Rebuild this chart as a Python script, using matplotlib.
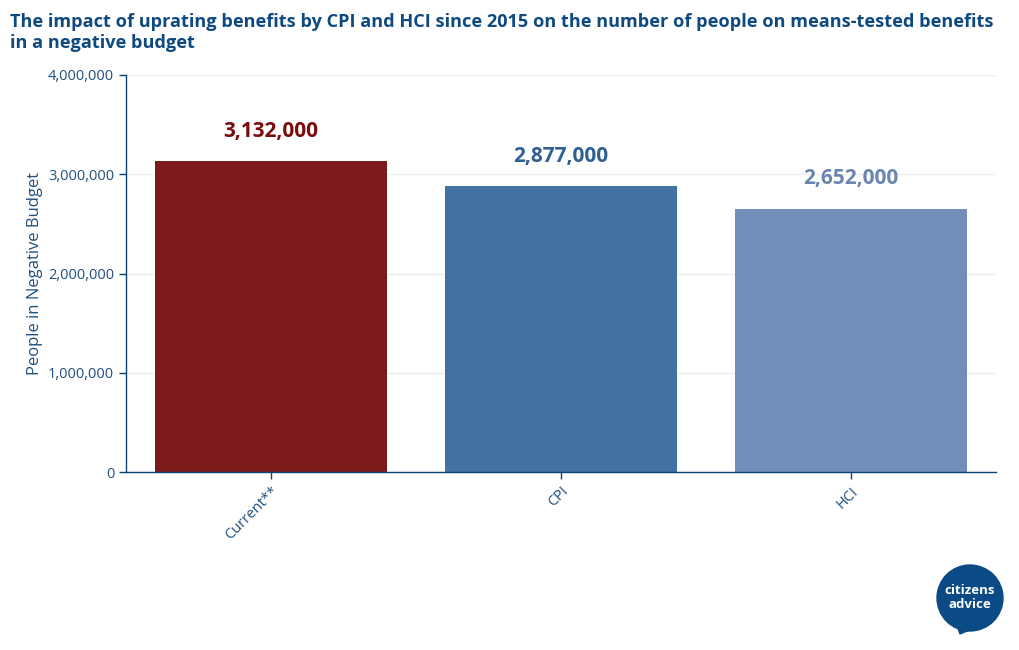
import matplotlib
matplotlib.use("Agg")
import matplotlib.pyplot as plt
from matplotlib.patches import Circle, Polygon
from matplotlib.ticker import FuncFormatter

categories = ["Current**", "CPI", "HCI"]
values = [3132000, 2877000, 2652000]
labels = ["3,132,000", "2,877,000", "2,652,000"]
bar_colors = ["#7d1a1c", "#4272a1", "#728db8"]
label_colors = ["#7a0c0c", "#2f5f93", "#6a85b0"]
yticks = [0, 1000000, 2000000, 3000000, 4000000]

plt.rcParams["font.family"] = ["Open Sans", "DejaVu Sans"]
axis_col = "#0b4373"

fig = plt.figure(figsize=(10.2, 6.5), dpi=100)
ax = fig.add_axes([126/1020, 1-472/650, 870/1020, 397/650])

x = range(len(categories))
ax.bar(x, values, width=0.8, color=bar_colors, zorder=2)
for i, (v, lab, c) in enumerate(zip(values, labels, label_colors)):
    ax.annotate(lab, (i, v), xytext=(0, 14), textcoords="offset points",
                ha="center", va="bottom", fontsize=15, fontweight="bold", color=c)

ax.set_xlim(-0.5, 2.5)
ax.set_ylim(0, 4000000)
ax.set_yticks(yticks)
ax.yaxis.set_major_formatter(FuncFormatter(lambda v, p: f"{int(v):,}"))
ax.set_xticks(list(x))
ax.set_xticklabels(categories, rotation=45, ha="right", rotation_mode="anchor")
ax.tick_params(axis="both", colors=axis_col, labelsize=10.5, length=5, width=1,
               labelcolor="#1f5080")
ax.grid(axis="y", color="#eeeeee", linewidth=1, zorder=0)
for s in ["top", "right"]:
    ax.spines[s].set_visible(False)
for s in ["left", "bottom"]:
    ax.spines[s].set_color(axis_col)
    ax.spines[s].set_linewidth(1)
ax.set_ylabel("People in Negative Budget", fontsize=12, color="#1f5080", labelpad=4)

fig.text(10/1020, 1-22/650, "The impact of uprating benefits by CPI and HCI since 2015 on the number of people on means-tested benefits",
         fontsize=13.05, fontweight="bold", color="#0e4a80", ha="left", va="center")
fig.text(10/1020, 1-43/650, "in a negative budget",
         fontsize=13.05, fontweight="bold", color="#0e4a80", ha="left", va="center")

# logo
W, H = 1020, 650
cx, cy, r = 970, 598, 33
circ = Circle((cx/100, (H-cy)/100), r/100, transform=fig.dpi_scale_trans, color="#0b4a85")
fig.patches.append(circ)
tail = Polygon([((cx-14)/100, (H-cy-25)/100), ((cx+2)/100, (H-cy-31)/100), ((cx-10)/100, (H-634)/100)],
               closed=True, transform=fig.dpi_scale_trans, color="#0b4a85")
fig.patches.append(tail)
fig.text(cx/W, 1-(cy-8)/H, "citizens", fontsize=9.5, fontweight="bold", color="white", ha="center", va="center")
fig.text(cx/W, 1-(cy+7)/H, "advice", fontsize=9.5, fontweight="bold", color="white", ha="center", va="center")

fig.savefig("out.png", dpi=100)
